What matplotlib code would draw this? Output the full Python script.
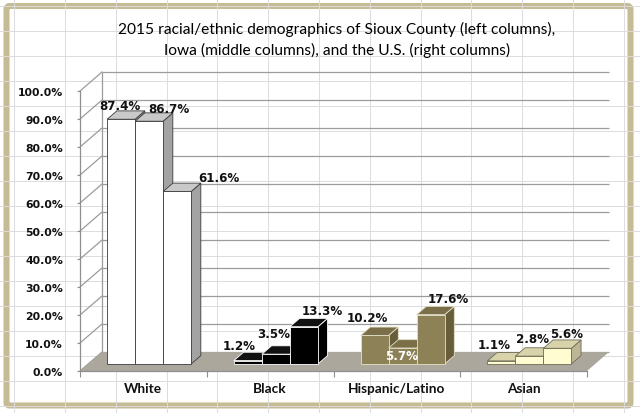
import matplotlib.pyplot as plt
import numpy as np
from matplotlib.patches import Polygon, FancyBboxPatch

# ---- data ----
categories = ["White", "Black", "Hispanic/Latino", "Asian"]
sioux = [87.4, 1.2, 10.2, 1.1]   # left columns
iowa = [86.7, 3.5, 5.7, 2.8]     # middle columns
us = [61.6, 13.3, 17.6, 5.6]     # right columns
yticks = np.arange(0, 101, 10)
title1 = "2015 racial/ethnic demographics of Sioux County (left columns),"
title2 = "Iowa (middle columns), and the U.S. (right columns)"

# ---- styles (one colour set per category) ----
front_colors = ["#ffffff", "#000000", "#8d8257", "#fffcd2"]
top_colors = ["#c9c9c9", "#111111", "#7a6f48", "#d8d3aa"]
side_colors = ["#a3a3a3", "#000000", "#675d3b", "#bbb693"]
edge_colors = ["#3a3a3a", "#ffffff", "#e4e0c6", "#6e6b55"]

# label offsets in pixels (dx right, dy up), from top-face centre
label_off = [[(-6, 10), (15, 9), (37, 9.5)],
             [(-14, 10.5), (-7, 16), (13.5, 12)],
             [(-12.5, 13.5), (-6, -12), (13, 12.5)],
             [(-12, 12), (-2, 13), (4.5, 11)]]
label_white = {(2, 1)}

# ---- geometry (pixels) ----
W, H = 640, 414
PX_X = 126.75          # px per category on the front plane
PX_Y = 2.8             # px per percent
X0, Y0 = 80, 372       # front-plane origin (px from left / top)
Dx, Dy = 22 / PX_X, 19 / PX_Y          # floor depth in data units
BAR_W = 28 / PX_X
BAR_OFF = 19 / PX_X
D0 = 0.37                              # bar front position inside the floor depth
DEPTH = 0.44                           # bar depth as fraction of floor depth
ddx, ddy = DEPTH * Dx, DEPTH * Dy

xlim = (-0.1, 4.3)
ylim = (-5, 110)

fig = plt.figure(figsize=(W / 100, H / 100), dpi=100)

# background: spreadsheet cells + chart frame
bg = fig.add_axes([0, 0, 1, 1])
bg.set_xlim(0, W)
bg.set_ylim(H, 0)
bg.axis("off")
for k in range(-1, 12):
    bg.axvline(65 + 50.8 * k, color="#dcdcdc", lw=0.7)
for y in np.arange(7, H, 25):
    bg.axhline(y, color="#dcdcdc", lw=0.7)
bg.add_patch(FancyBboxPatch((6.5, 7), 624, 399.5,
                            boxstyle="round,pad=0,rounding_size=3",
                            fc="white", ec="#c5bb95", lw=6 * 0.72))

# main axes placed so data units map onto the pixel geometry above
left_px = X0 + xlim[0] * PX_X
right_px = X0 + xlim[1] * PX_X
bot_px = Y0 - ylim[0] * PX_Y
top_px = Y0 - ylim[1] * PX_Y
ax = fig.add_axes([left_px / W, (H - bot_px) / H,
                   (right_px - left_px) / W, (bot_px - top_px) / H])
ax.set_xlim(*xlim)
ax.set_ylim(*ylim)
ax.patch.set_visible(False)

grid_c = "#9c9c9c"
# floor
ax.add_patch(Polygon([(0, 0), (4, 0), (4 + Dx, Dy), (Dx, Dy)],
                     closed=True, fc="#aba79c", ec="none", zorder=1))
# back wall gridlines, side wall lines
ax.hlines(yticks + Dy, Dx, 4 + Dx, color=grid_c, lw=0.9, zorder=0.5)
for v in yticks:
    ax.plot([0, Dx], [v, v + Dy], color=grid_c, lw=0.9, zorder=0.5)
ax.vlines(Dx, Dy, 100 + Dy, color=grid_c, lw=0.9, zorder=0.5)

# bars, drawn left to right so nearer faces cover hidden ones
values = [sioux, iowa, us]
z = 3.0
for i in range(len(categories)):
    for j, vals in enumerate(values):
        v = vals[i]
        x0 = i + BAR_OFF + j * BAR_W + D0 * Dx
        y0 = D0 * Dy
        ec = edge_colors[i]
        side = Polygon([(x0 + BAR_W, y0), (x0 + BAR_W + ddx, y0 + ddy),
                        (x0 + BAR_W + ddx, y0 + v + ddy), (x0 + BAR_W, y0 + v)],
                       closed=True, fc=side_colors[i], ec=ec, lw=0.6, zorder=z)
        top = Polygon([(x0, y0 + v), (x0 + BAR_W, y0 + v),
                       (x0 + BAR_W + ddx, y0 + v + ddy), (x0 + ddx, y0 + v + ddy)],
                      closed=True, fc=top_colors[i], ec=ec, lw=0.6, zorder=z)
        ax.add_patch(side)
        ax.add_patch(top)
        ax.bar(x0, v, width=BAR_W, bottom=y0, align="edge",
               color=front_colors[i], edgecolor=ec, linewidth=0.6, zorder=z)
        z += 0.01
        ox, oy = label_off[i][j]
        ax.annotate("%.1f%%" % v,
                    xy=(x0 + BAR_W / 2 + ddx / 2, y0 + v + ddy / 2),
                    xytext=(ox * 0.72, oy * 0.72), textcoords="offset points",
                    ha="center", va="center", fontsize=8.6, fontweight="bold",
                    family="DejaVu Sans",
                    color="white" if (i, j) in label_white else "#111111",
                    zorder=10, annotation_clip=False)

# axes: front vertical axis and floor front edge
for s in ["top", "right"]:
    ax.spines[s].set_visible(False)
ax.spines["left"].set_position(("data", 0))
ax.spines["left"].set_bounds(0, 100)
ax.spines["bottom"].set_position(("data", 0))
ax.spines["bottom"].set_bounds(0, 4)
for s in ["left", "bottom"]:
    ax.spines[s].set_color("#8f8f8f")
    ax.spines[s].set_linewidth(0.9)

ax.set_yticks(yticks)
ax.set_yticklabels(["%.1f%%" % t for t in yticks], fontsize=7.8,
                   fontweight="bold", family="DejaVu Sans", color="#111111")
ax.tick_params(axis="y", length=2.2, width=0.8, color="#8f8f8f", pad=10)

ax.set_xticks(np.arange(len(categories)) + 0.5)
ax.set_xticklabels(categories, fontsize=9.8, fontweight="bold", family="Lato",
                   color="#111111")
ax.set_xticks(np.arange(len(categories) + 1), minor=True)
ax.tick_params(axis="x", which="major", length=0, pad=8)
ax.tick_params(axis="x", which="minor", length=4, width=0.8, color="#8f8f8f")

fig.text(337 / W, 1 - 29 / H, title1, ha="center", va="center",
         fontsize=11.2, family="Lato", color="#000000")
fig.text(337 / W, 1 - 50 / H, title2, ha="center", va="center",
         fontsize=11.2, family="Lato", color="#000000")

fig.savefig("out.png", dpi=100)
